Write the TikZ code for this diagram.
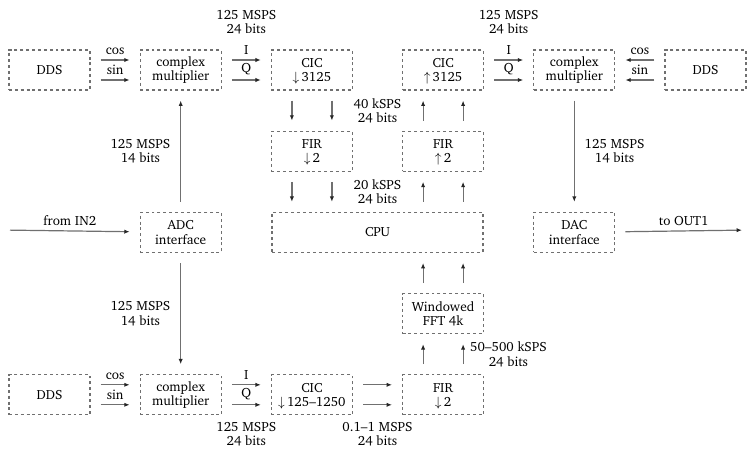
\documentclass[tikz,border=0pt]{standalone}
\usepackage[T1]{fontenc}
\usepackage{charter}
\usetikzlibrary{arrows.meta,positioning,calc}
\definecolor{linegray}{RGB}{112,112,112}
\newcommand{\decim}{\smash{$\downarrow$}\,}
\newcommand{\interp}{\smash{$\uparrow$}\,}

\begin{document}
\begin{tikzpicture}[
  node distance=30pt and 36.75pt,
  font=\fontsize{10}{10.8}\selectfont,
  box/.style={draw=linegray,dash pattern=on 2.2pt off 2.2pt,line width=0.9pt,align=center,minimum width=60.75pt,minimum height=30pt,inner sep=2pt},
  arr/.style={-{Latex[length=4pt,width=3.2pt,color=black!85]},draw=linegray,line width=0.9pt,shorten <=7.5pt,shorten >=7.5pt},
  rate/.style={align=center,text=black}
]
\useasboundingbox (0,0) rectangle (562.5pt,-337.5pt);
% receive and transmit rows
\node[box] (ddsa) at (37.125pt,-52.5pt) {DDS};
\node[box,right=of ddsa] (mixa) {complex\\multiplier};
\node[box,right=of mixa] (cicdn) {CIC\\\decim3125};
\node[box,right=of cicdn] (cicup) {CIC\\\interp3125};
\node[box,right=of cicup] (mixb) {complex\\multiplier};
\node[box,right=of mixb] (ddsb) {DDS};
\node[box,below=of cicdn] (firdn) {FIR\\\decim2};
\node[box,below=of cicup] (firup) {FIR\\\interp2};
\coordinate (firmid) at ($(firdn.south)!.5!(firup.south)$);
\node[box,below=of firmid,minimum width=158.25pt] (cpu) {CPU};
\node[box] (adc) at (mixa |- cpu) {ADC\\interface};
\node[box] (dac) at (mixb |- cpu) {DAC\\interface};
% spectrum row
\coordinate (fftref) at (firup |- cpu.south);
\node[box,below=of fftref] (fft) {Windowed\\FFT 4k};
\node[box,below=of fft] (firbot) {FIR\\\decim2};
\node[box,left=of firbot] (cicbot) {CIC\\\decim125--1250};
\node[box,left=of cicbot] (mixc) {complex\\multiplier};
\node[box,left=of mixc] (ddsc) {DDS};
\coordinate (in) at (0pt,-172.5pt);
\coordinate (out) at (564pt,-172.5pt);
% horizontal pairs
\draw[arr] ([yshift=7.5pt]ddsa.east) -- node[rate,above]{cos} ([yshift=7.5pt]mixa.west);
\draw[arr] ([yshift=-7.5pt]ddsa.east) -- node[rate,above]{sin} ([yshift=-7.5pt]mixa.west);
\draw[arr] ([yshift=7.5pt]mixa.east) -- node[rate,above]{I} ([yshift=7.5pt]cicdn.west);
\draw[arr] ([yshift=-7.5pt]mixa.east) -- node[rate,above]{Q} ([yshift=-7.5pt]cicdn.west);
\draw[arr] ([yshift=7.5pt]cicup.east) -- node[rate,above]{I} ([yshift=7.5pt]mixb.west);
\draw[arr] ([yshift=-7.5pt]cicup.east) -- node[rate,above]{Q} ([yshift=-7.5pt]mixb.west);
\draw[arr] ([yshift=7.5pt]ddsb.west) -- node[rate,above]{cos} ([yshift=7.5pt]mixb.east);
\draw[arr] ([yshift=-7.5pt]ddsb.west) -- node[rate,above]{sin} ([yshift=-7.5pt]mixb.east);
\draw[arr] ([yshift=7.5pt]ddsc.east) -- node[rate,above]{cos} ([yshift=7.5pt]mixc.west);
\draw[arr] ([yshift=-7.5pt]ddsc.east) -- node[rate,above]{sin} ([yshift=-7.5pt]mixc.west);
\draw[arr] ([yshift=7.5pt]mixc.east) -- node[rate,above]{I} ([yshift=7.5pt]cicbot.west);
\draw[arr] ([yshift=-7.5pt]mixc.east) -- node[rate,above]{Q} ([yshift=-7.5pt]cicbot.west);
\foreach \dy in {7.5pt,-7.5pt}
  \draw[arr] ([yshift=\dy]cicbot.east) -- ([yshift=\dy]firbot.west);
% vertical pairs
\foreach \dx in {-15pt,15pt} {
  \draw[arr] ([xshift=\dx]cicdn.south) -- ([xshift=\dx]firdn.north);
  \draw[arr] ([xshift=\dx]firdn.south) -- ([xshift=\dx]firdn.south |- cpu.north);
  \draw[arr] ([xshift=\dx]firup.south |- cpu.north) -- ([xshift=\dx]firup.south);
  \draw[arr] ([xshift=\dx]firup.north) -- ([xshift=\dx]cicup.south);
  \draw[arr] ([xshift=\dx]fft.north) -- ([xshift=\dx]fft.north |- cpu.south);
}
\draw[arr] ([xshift=-15pt]firbot.north) -- ([xshift=-15pt]fft.south);
\draw[arr] ([xshift=15pt]firbot.north) -- node[rate,right=1.5pt]{50--500 kSPS\\24 bits} ([xshift=15pt]fft.south);
% converters
\draw[arr] (adc) -- node[rate,left=4pt]{125 MSPS\\14 bits} (mixa);
\draw[arr] (adc) -- node[rate,left=4pt]{125 MSPS\\14 bits} (mixc);
\draw[arr] (mixb) -- node[rate,right=4pt]{125 MSPS\\14 bits} (dac);
\draw[arr] (in) -- node[rate,above]{from IN2} (adc);
\draw[arr] (dac) -- node[rate,above]{to OUT1} (out);
% rate labels
\path (mixa.north east) -- node[rate,above=8pt]{125 MSPS\\24 bits} (cicdn.north west);
\path (cicup.north east) -- node[rate,above=8pt]{125 MSPS\\24 bits} (mixb.north west);
\path (cicdn.south east) -- node[rate]{40 kSPS\\24 bits} (firup.north west);
\path (firdn.south east) -- node[rate]{20 kSPS\\24 bits} (cpu.north -| firup.west);
\path (mixc.south east) -- node[rate,below=1.5pt]{125 MSPS\\24 bits} (cicbot.south west);
\path (cicbot.south east) -- node[rate,below=1.5pt]{0.1--1 MSPS\\24 bits} (firbot.south west);
\end{tikzpicture}
\end{document}
